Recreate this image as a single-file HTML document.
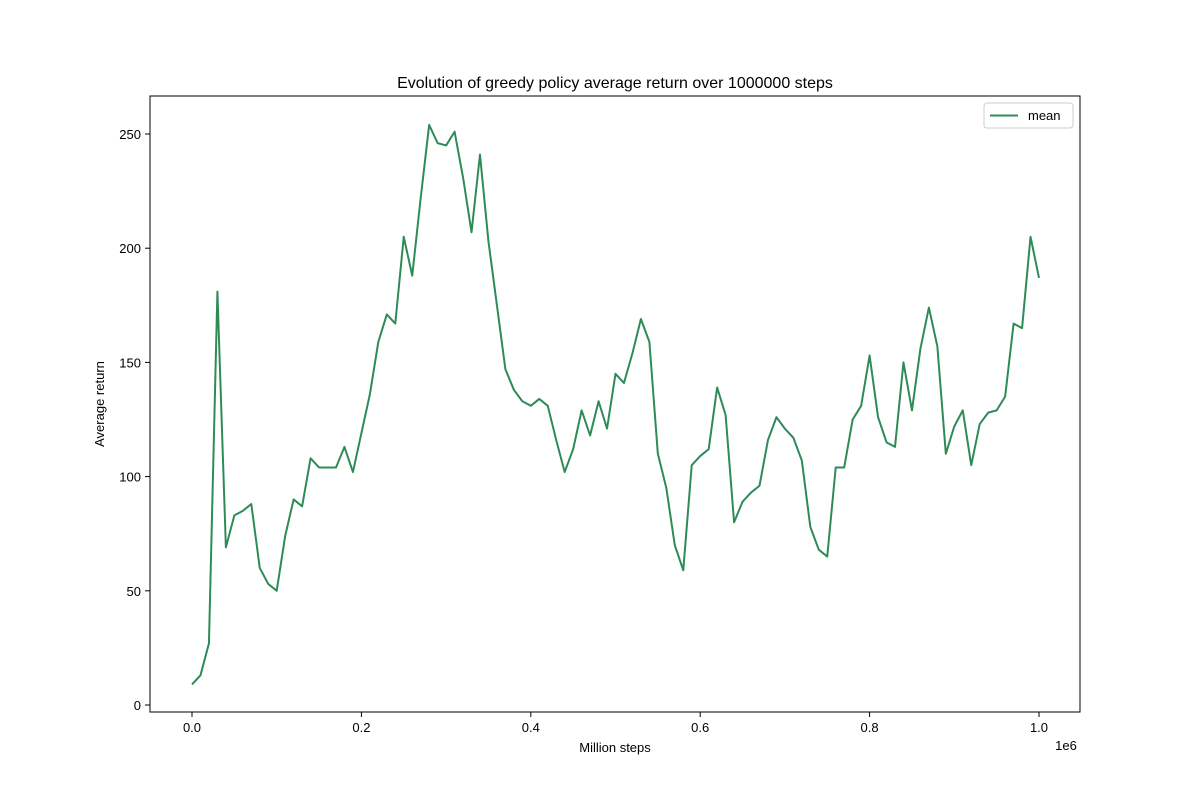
<!DOCTYPE html>
<html><head><meta charset="utf-8"><style>
body{margin:0;background:#fff;font-family:"Liberation Sans","DejaVu Sans",sans-serif;}
</style></head><body>
<svg id="chart" width="1200" height="800" xmlns="http://www.w3.org/2000/svg">
<rect width="1200" height="800" fill="#fff"/>
<text x="615" y="88" text-anchor="middle" font-size="16">Evolution of greedy policy average return over 1000000 steps</text>
<g id="axes"></g>
<rect x="150" y="96" width="930" height="616" fill="none" stroke="#000" stroke-width="1"/>
<text x="615" y="752" text-anchor="middle" font-size="13">Million steps</text>
<text x="1066" y="750" text-anchor="middle" font-size="13">1e6</text>
<text transform="translate(104,404) rotate(-90)" text-anchor="middle" font-size="13">Average return</text>
<g>
<rect x="984" y="103" width="89" height="25" rx="3" fill="#fff" stroke="#ccc"/>
<line x1="990" y1="115.5" x2="1018" y2="115.5" stroke="#2e8b57" stroke-width="2"/>
<text x="1028" y="120" font-size="13">mean</text>
</g>
</svg>
<script>
const values=[9,13,27,181,69,83,85,88,60,53,50,74,90,87,108,104,104,104,113,102,119,136,159,171,167,205,188,222,254,246,245,251,231,207,241,203,175,147,138,133,131,134,131,116,102,112,129,118,133,121,145,141,154,169,159,110,95,70,59,105,109,112,139,127,80,89,93,96,116,126,121,117,107,78,68,65,104,104,125,131,153,126,115,113,150,129,156,174,157,110,122,129,105,123,128,129,135,167,165,205,187];
const xTicks=[0,0.2,0.4,0.6,0.8,1.0];
const xTickLabels=["0.0","0.2","0.4","0.6","0.8","1.0"];
const yTicks=[0,50,100,150,200,250];
const ns="http://www.w3.org/2000/svg";
const X=v=>192+v*847;
const Y=v=>705-v*2.284;
const g=document.getElementById('axes');
function mk(t,a){const e=document.createElementNS(ns,t);for(const k in a)e.setAttribute(k,a[k]);g.appendChild(e);return e;}
xTicks.forEach((t,i)=>{
 const l=mk('line',{x1:X(t),x2:X(t),y1:712,y2:717,stroke:'#000'});
 
 
 const tx=mk('text',{x:X(t),y:732,'text-anchor':'middle','font-size':13});
 tx.textContent=xTickLabels[i];
 
 
});
yTicks.forEach(t=>{
 const l=mk('line',{x1:145,x2:150,y1:Y(t),y2:Y(t),stroke:'#000'});
 
 
 const tx=mk('text',{x:141,y:Y(t)+5,'text-anchor':'end','font-size':13});
 tx.textContent=String(t);
 
 
});
const pts=values.map((v,i)=>X(i/(values.length-1))+','+Y(v)).join(' ');
const p=mk('polyline',{points:pts,fill:'none',stroke:'#2e8b57','stroke-width':2,'stroke-linejoin':'round'});


</script>
</body></html>
